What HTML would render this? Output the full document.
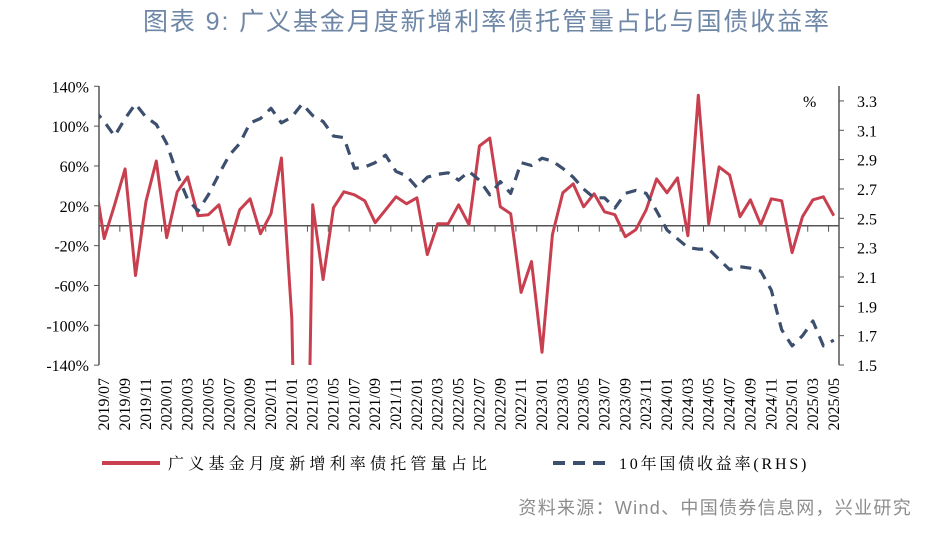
<!DOCTYPE html>
<html><head><meta charset="utf-8"><style>
html,body{margin:0;background:#fff;width:937px;height:544px;overflow:hidden}
svg{display:block}
.ax{font-family:"Liberation Serif","Noto Serif CJK SC",serif;font-size:16px;fill:#000}
</style></head><body>
<svg id="chart" width="937" height="544">
<text x="143" y="30" style="font-family:'Liberation Sans','Noto Sans CJK SC',sans-serif;font-size:25px;fill:#6f87a6;letter-spacing:1.9px">图表 9: 广义基金月度新增利率债托管量占比与国债收益率</text>
<defs><clipPath id="pc"><rect x="99" y="80" width="740" height="285"/></clipPath></defs>
<g id="axes"></g>
<g id="series" clip-path="url(#pc)"></g>
<line x1="102" y1="463" x2="160" y2="463" stroke="#c8404f" stroke-width="4"/>
<text x="168" y="469" class="ax" style="letter-spacing:4.2px">广义基金月度新增利率债托管量占比</text>
<line x1="553" y1="463" x2="613" y2="463" stroke="#3d4f6e" stroke-width="4" stroke-dasharray="12,8"/>
<text x="619" y="469" class="ax" style="letter-spacing:2.8px">10年国债收益率(RHS)</text>
<text x="912" y="514" text-anchor="end" style="font-family:'Liberation Sans','Noto Sans CJK SC',sans-serif;font-size:18px;fill:#8c8c8c;letter-spacing:1.3px">资料来源：Wind、中国债券信息网，兴业研究</text>
</svg>
<script>
const months=[];
for(let y=2019,m=6;!(y===2025&&m===6);){months.push(y+'/'+String(m).padStart(2,'0'));m++;if(m>12){m=1;y++;}}
const fundShare=[53,-13,21,57,-50,24,65,-12,34,49,10,11,21,-19,16,27,-8,12,68,-93,-600,21,-54,18,34,31,25,3,16,29,22,28,-29,2,2,21,1,80,88,19,12,-67,-36,-127,-9,33,42,19,32,14,11,-11,-4,16,47,33,48,-10,131,2,59,51,9,26,1,27,25,-27,9,26,29,10];
const yield10y=[3.24,3.16,3.06,3.18,3.28,3.19,3.14,3.01,2.80,2.63,2.55,2.66,2.80,2.93,3.01,3.15,3.18,3.25,3.15,3.19,3.28,3.20,3.16,3.06,3.05,2.84,2.85,2.88,2.93,2.82,2.79,2.71,2.78,2.80,2.81,2.76,2.82,2.76,2.66,2.75,2.67,2.88,2.86,2.91,2.89,2.84,2.78,2.70,2.64,2.64,2.57,2.67,2.69,2.67,2.55,2.42,2.36,2.30,2.29,2.29,2.22,2.15,2.17,2.16,2.14,2.01,1.74,1.63,1.70,1.80,1.63,1.67];
const leftTicks=[140,100,60,20,-20,-60,-100,-140];
const rightTicks=[3.3,3.1,2.9,2.7,2.5,2.3,2.1,1.9,1.7,1.5];
const NS='http://www.w3.org/2000/svg';
const X0=99,X1=839,NC=71;
const step=(X1-X0)/NC;
const xPos=i=>X0+step*(i-1)+step/2; // i indexes months (0 = 2019/06, hidden)
const yL=v=>225.7-v*0.996;
const yR=v=>365-(v-1.5)*146.7;
function el(t,a,p){const e=document.createElementNS(NS,t);for(const k in a)e.setAttribute(k,a[k]);p.appendChild(e);return e;}
const ax=document.getElementById('axes'),se=document.getElementById('series');
let e;
e=el('line',{x1:X0,y1:86,x2:X0,y2:365,stroke:'#555','stroke-width':1.5},ax);


e=el('line',{x1:X1,y1:86,x2:X1,y2:365,stroke:'#555','stroke-width':1.5},ax);


e=el('line',{x1:X0,y1:yL(0),x2:X1,y2:yL(0),stroke:'#555','stroke-width':1.5},ax);


leftTicks.forEach(v=>{
  el('line',{x1:X0-5,y1:yL(v),x2:X0,y2:yL(v),stroke:'#555'},ax);
  const t=el('text',{x:X0-10,y:yL(v)+6,'text-anchor':'end',class:'ax'},ax);t.textContent=v+'%';
  
  
});
rightTicks.forEach(v=>{
  el('line',{x1:X1,y1:yR(v),x2:X1+5,y2:yR(v),stroke:'#555'},ax);
  const t=el('text',{x:X1+18,y:yR(v)+6,class:'ax'},ax);t.textContent=v.toFixed(1);
  
  
});
e=el('text',{x:803,y:107,class:'ax'},ax);e.textContent='%';


for(let k=0;k<=NC;k+=2){
  if(k>0&&k<NC) el('line',{x1:X0+k*step,y1:yL(0),x2:X0+k*step,y2:yL(0)+6,stroke:'#555'},ax);
}
for(let i=1;i<months.length;i+=2){
  const x=xPos(i),y=376;
  const t=el('text',{x:x,y:y,class:'ax','text-anchor':'end',transform:`rotate(-90 ${x} ${y}) translate(-2 5)`},ax);
  t.textContent=months[i];
  
  
}
const pr=fundShare.map((v,i)=>xPos(i).toFixed(1)+','+yL(v).toFixed(1)).join(' ');
e=el('polyline',{points:pr,fill:'none',stroke:'#c8404f','stroke-width':3,'stroke-linejoin':'round'},se);


const pb=yield10y.map((v,i)=>xPos(i).toFixed(1)+','+yR(v).toFixed(1)).join(' ');
e=el('polyline',{points:pb,fill:'none',stroke:'#3d4f6e','stroke-width':3.2,'stroke-dasharray':'11,8','stroke-linejoin':'round'},se);


</script>
</body></html>
